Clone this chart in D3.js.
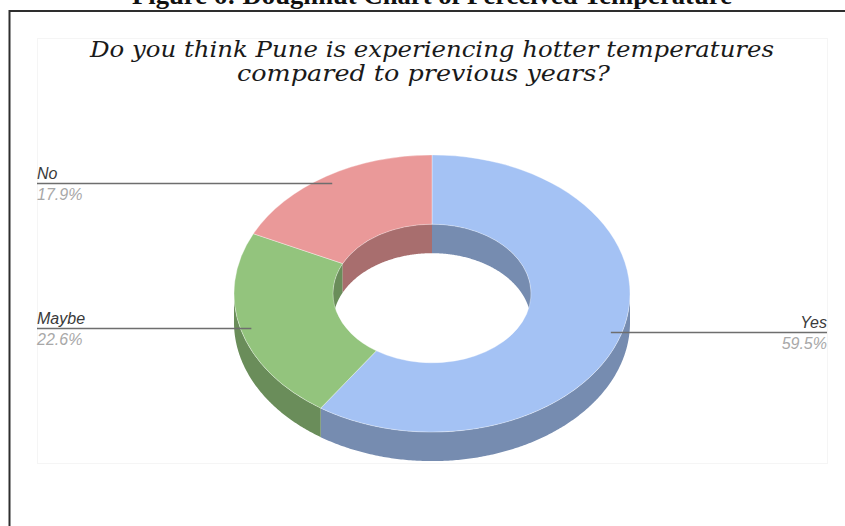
<!DOCTYPE html>
<html>
<head>
<meta charset="utf-8">
<script src="https://cdn.jsdelivr.net/npm/d3@7"></script>
<style>
  html, body { margin: 0; padding: 0; background: #ffffff; }
  svg { display: block; }
</style>
</head>
<body>
<script>
// Survey answers and their shares (percent)
const categories = ["Yes", "Maybe", "No"];
const shares = [59.5, 22.6, 17.9];
const shareLabels = ["59.5%", "22.6%", "17.9%"];
const sliceColors = ["#a4c2f4", "#93c47d", "#ea9999"];
const captionText = "Figure 6: Doughnut Chart of Perceived Temperature";
const titleLines = [
  "Do you think Pune is experiencing hotter temperatures",
  "compared to previous years?"
];

const W = 845, H = 526;
const svg = d3.select("body").append("svg")
  .attr("width", W).attr("height", H);

// Figure caption (sits above the framed box)
svg.append("text")
  .attr("x", 432).attr("y", 4)
  .attr("text-anchor", "middle")
  .attr("font-family", "'Liberation Serif', 'Times New Roman', serif")
  .attr("font-weight", "bold")
  .attr("font-size", 26)
  .attr("textLength", 600)
  .attr("lengthAdjust", "spacingAndGlyphs")
  .attr("fill", "#111")
  .text(captionText);

// Box around the figure
svg.append("path")
  .attr("d", "M9.5,540 V11 H860")
  .attr("fill", "none")
  .attr("stroke", "#2e2e2e")
  .attr("stroke-width", 2);

// Faint chart-area outline
svg.append("rect")
  .attr("x", 37.5).attr("y", 38.5)
  .attr("width", 790).attr("height", 425)
  .attr("fill", "none")
  .attr("stroke", "#f5f5f5")
  .attr("stroke-width", 1);

// Chart title
const titleFont = "'DejaVu Serif', Georgia, serif";
svg.append("text")
  .attr("x", 432).attr("y", 57)
  .attr("text-anchor", "middle")
  .attr("font-family", titleFont)
  .attr("font-style", "italic")
  .attr("font-size", 22.5)
  .attr("textLength", 684)
  .attr("lengthAdjust", "spacingAndGlyphs")
  .attr("fill", "#1a1a1a")
  .text(titleLines[0]);
svg.append("text")
  .attr("x", 237).attr("y", 80.5)
  .attr("text-anchor", "start")
  .attr("font-family", titleFont)
  .attr("font-style", "italic")
  .attr("font-size", 22.5)
  .attr("textLength", 373)
  .attr("lengthAdjust", "spacingAndGlyphs")
  .attr("fill", "#1a1a1a")
  .text(titleLines[1]);

// 3D doughnut geometry
const cx = 432, cy = 293.5;
const R = 198, r0 = 99;     // outer / inner radius (horizontal)
const k = 0.7;              // vertical squash of the tilted ring
const depth = 29;           // thickness of the ring

const pie = d3.pie().sort(null).value(d => d);
const slices = pie(shares);
const arc = d3.arc().innerRadius(r0).outerRadius(R);

const shade = c => {
  const q = d3.rgb(c);
  return d3.rgb(q.r * 0.72, q.g * 0.72, q.b * 0.72).formatHex();
};

function ellPt(a, rad, dy) {
  return [cx + rad * Math.sin(a), cy - rad * k * Math.cos(a) + dy];
}
function wallPath(a0, a1, rad) {
  const n = Math.max(2, Math.ceil((a1 - a0) / 0.01));
  const top = [], bot = [];
  for (let i = 0; i <= n; i++) {
    const a = a0 + (a1 - a0) * i / n;
    top.push(ellPt(a, rad, 0));
    bot.push(ellPt(a, rad, depth));
  }
  return d3.line()(top.concat(bot.reverse())) + "Z";
}
function clipRange(s, e, lo, hi) {
  const a = Math.max(s, lo), b = Math.min(e, hi);
  return b > a ? [a, b] : null;
}

const body = svg.append("g");

// Inner wall: the far (upper) half of the hole
slices.forEach((d, i) => {
  [[0, Math.PI / 2], [1.5 * Math.PI, 2 * Math.PI]].forEach(([lo, hi]) => {
    const rg = clipRange(d.startAngle, d.endAngle, lo, hi);
    if (rg) body.append("path")
      .attr("d", wallPath(rg[0], rg[1], r0))
      .attr("fill", shade(sliceColors[i]));
  });
});

// Outer wall: the near (lower) half of the rim
slices.forEach((d, i) => {
  const rg = clipRange(d.startAngle, d.endAngle, Math.PI / 2, 1.5 * Math.PI);
  if (rg) body.append("path")
    .attr("d", wallPath(rg[0], rg[1], R))
    .attr("fill", shade(sliceColors[i]));
});

// Top face of the ring
body.append("g")
  .attr("transform", `translate(${cx},${cy}) scale(1,${k})`)
  .selectAll("path")
  .data(slices)
  .join("path")
  .attr("d", arc)
  .attr("fill", (d, i) => sliceColors[i])
  .attr("stroke", "rgba(255,255,255,0.35)")
  .attr("stroke-width", 1)
  .attr("vector-effect", "non-scaling-stroke");

// Leader lines and labels
const labelFont = "'Liberation Sans', Arial, sans-serif";
const leftX = 37, rightX = 827;
slices.forEach((d, i) => {
  const mid = (d.startAngle + d.endAngle) / 2;
  const p = ellPt(mid, R * 0.945, 0);
  const left = Math.sin(mid) < 0;
  const x2 = left ? leftX : rightX;
  const y = Math.round(p[1]) + 0.5;

  svg.append("line")
    .attr("x1", p[0]).attr("y1", y)
    .attr("x2", x2).attr("y2", y)
    .attr("stroke", "#6e6e6e")
    .attr("stroke-width", 1.4);

  svg.append("text")
    .attr("x", x2).attr("y", y - 4.5)
    .attr("text-anchor", left ? "start" : "end")
    .attr("font-family", labelFont)
    .attr("font-style", "italic")
    .attr("font-size", 16)
    .attr("fill", "#3a3a3a")
    .text(categories[i]);

  svg.append("text")
    .attr("x", x2).attr("y", y + 16)
    .attr("text-anchor", left ? "start" : "end")
    .attr("font-family", labelFont)
    .attr("font-style", "italic")
    .attr("font-size", 16)
    .attr("fill", "#a8a8a8")
    .text(shareLabels[i]);
});
</script>
</body>
</html>
